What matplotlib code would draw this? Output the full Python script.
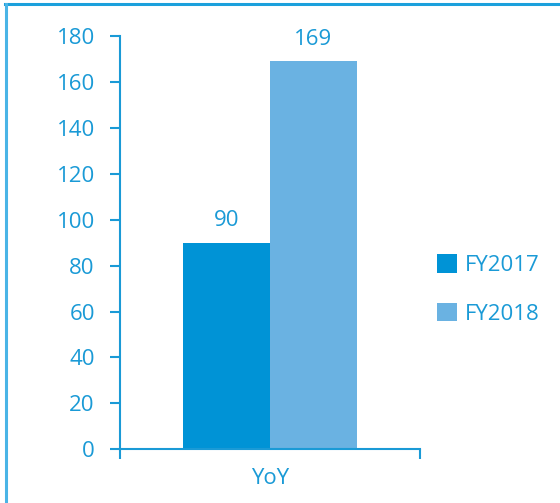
import matplotlib.pyplot as plt
from matplotlib.lines import Line2D

categories = ['YoY']
series_names = ['FY2017', 'FY2018']
values_2017 = [90]
values_2018 = [169]
y_ticks = [0, 20, 40, 60, 80, 100, 120, 140, 160, 180]

text_color = '#1a9ad6'
c2017 = '#0093d6'
c2018 = '#6ab2e2'

plt.rcParams['font.family'] = ['Open Sans', 'DejaVu Sans']
fs = 16

fig = plt.figure(figsize=(5.6, 5.03), dpi=100)
ax = fig.add_axes([0.214, 0.107, 0.536, 0.821])

w = 0.29
b1 = ax.bar([-w / 2], values_2017, width=w, color=c2017, label=series_names[0])
b2 = ax.bar([w / 2], values_2018, width=w, color=c2018, label=series_names[1])

for bars, vals in ((b1, values_2017), (b2, values_2018)):
    for rect, v in zip(bars, vals):
        ax.text(rect.get_x() + rect.get_width() / 2, v + 5, str(v),
                ha='center', va='bottom', fontsize=fs, color=text_color)

ax.set_xlim(-0.5, 0.5)
ax.set_ylim(0, 180)
ax.set_yticks(y_ticks)
ax.set_xticks([-0.5, 0.5])
ax.set_xticklabels(['', ''])
ax.text(0, -0.045, categories[0], transform=ax.get_xaxis_transform(),
        ha='center', va='top', fontsize=fs, color=text_color)

for s in ['top', 'right']:
    ax.spines[s].set_visible(False)
for s in ['left', 'bottom']:
    ax.spines[s].set_color(text_color)
    ax.spines[s].set_linewidth(1.5)
ax.tick_params(axis='y', colors=text_color, labelsize=fs, length=7, width=1.5, pad=11)
ax.tick_params(axis='x', colors=text_color, length=7, width=1.5, direction='out')
ax.spines['left'].set_bounds(0, 180)

leg = fig.legend(handles=[b1, b2], labels=series_names, loc='upper left',
                 bbox_to_anchor=(0.745, 0.534), frameon=False, fontsize=fs,
                 handlelength=0.9, handleheight=0.9, handletextpad=0.35,
                 labelspacing=1.2, labelcolor=text_color)

fig.add_artist(Line2D([0.009, 1.0], [0.992, 0.992], transform=fig.transFigure,
                      color='#1ba0dc', lw=2.2))
fig.add_artist(Line2D([0.01, 0.01], [0.0, 0.992], transform=fig.transFigure,
                      color='#4ab4e6', lw=2.2))

fig.savefig('out.png', dpi=100)
